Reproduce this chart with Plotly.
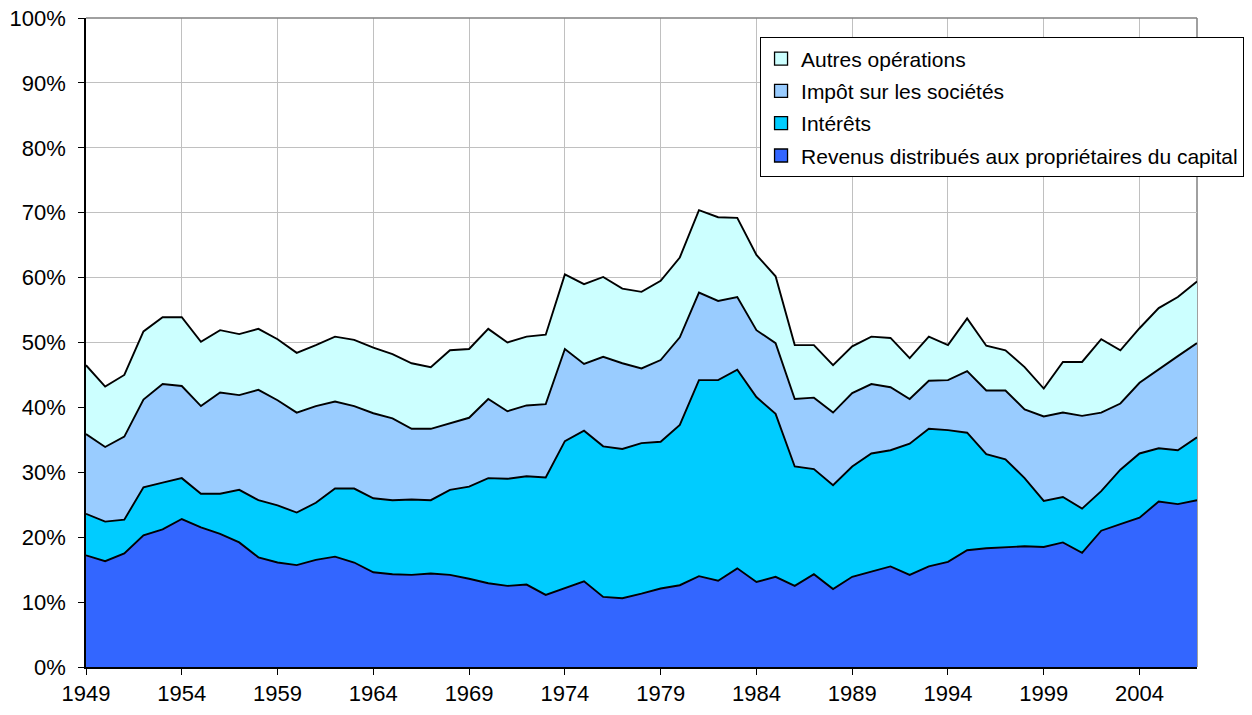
import plotly.graph_objects as go

years = list(range(1949, 2008))

revenus = [17.2, 16.3, 17.5, 20.3, 21.2, 22.8, 21.5, 20.5, 19.2, 16.9,
           16.1, 15.7, 16.5, 17.0, 16.1, 14.6, 14.3, 14.2, 14.4, 14.2,
           13.6, 12.9, 12.5, 12.7, 11.1, 12.1, 13.2, 10.8, 10.6, 11.3,
           12.1, 12.6, 14.0, 13.3, 15.2, 13.1, 13.9, 12.5, 14.3, 12.0,
           13.9, 14.7, 15.5, 14.2, 15.5, 16.2, 18.0, 18.3, 18.5, 18.6,
           18.5, 19.2, 17.6, 21.0, 22.0, 23.0, 25.5, 25.1, 25.7]

interets = [6.4, 6.1, 5.2, 7.4, 7.2, 6.3, 5.2, 6.2, 8.1, 8.8,
            8.8, 8.1, 8.8, 10.5, 11.4, 11.4, 11.4, 11.6, 11.3, 13.1,
            14.2, 16.2, 16.5, 16.7, 18.1, 22.7, 23.2, 23.2, 23.0, 23.2,
            22.6, 24.7, 30.2, 30.9, 30.6, 28.5, 25.1, 18.4, 16.2, 16.0,
            17.0, 18.2, 17.9, 20.2, 21.2, 20.3, 18.1, 14.5, 13.5, 10.5,
            7.1, 7.0, 6.8, 6.1, 8.4, 9.9, 8.2, 8.3, 9.7]

impot = [12.3, 11.5, 12.8, 13.5, 15.2, 14.2, 13.5, 15.6, 14.6, 17.0,
         16.2, 15.4, 14.9, 13.4, 12.7, 13.1, 12.6, 10.9, 11.0, 10.3,
         10.6, 12.2, 10.4, 10.9, 11.3, 14.2, 10.3, 13.8, 13.2, 11.5,
         12.6, 13.5, 13.5, 12.2, 11.2, 10.3, 10.9, 10.4, 11.0, 11.2,
         11.3, 10.7, 9.7, 6.9, 7.4, 7.7, 9.5, 9.8, 10.6, 10.6,
         13.0, 13.0, 14.3, 12.1, 10.2, 10.9, 12.2, 14.5, 14.5]

autres = [10.6, 9.3, 9.5, 10.5, 10.3, 10.6, 9.9, 9.6, 9.4, 9.4,
          9.4, 9.2, 9.4, 10.0, 10.2, 10.1, 9.9, 10.1, 9.5, 11.2,
          10.6, 10.8, 10.6, 10.6, 10.7, 11.5, 12.3, 12.3, 11.5, 11.8,
          12.2, 12.3, 12.7, 12.9, 12.2, 11.6, 10.3, 8.3, 8.1, 7.3,
          7.2, 7.3, 7.6, 6.3, 6.8, 5.4, 8.1, 6.9, 6.2, 6.5,
          4.3, 7.8, 8.3, 11.3, 8.2, 8.4, 9.4, 9.1, 9.5]

series_names = ["Revenus distribués aux propriétaires du capital",
                "Intérêts", "Impôt sur les sociétés", "Autres opérations"]
series_values = [revenus, interets, impot, autres]
series_colors = ["#3366FF", "#00CCFF", "#99CCFF", "#CCFFFF"]

x_ticks = list(range(1949, 2008, 5))
y_ticks = list(range(0, 101, 10))
y_labels = [f"{v}%" for v in y_ticks]

fig = go.Figure()
# stacked areas (bottom to top)
for name, vals, col in zip(series_names, series_values, series_colors):
    fig.add_trace(go.Scatter(
        x=years, y=vals, name=name, mode="lines",
        stackgroup="one", fillcolor=col,
        line=dict(color="black", width=1.9),
        showlegend=False,
        hoverinfo="x+y+name",
    ))

# legend entries with square swatches (top series first)
for i, (name, col) in enumerate(zip(series_names[::-1], series_colors[::-1])):
    fig.add_trace(go.Scatter(
        x=[None], y=[None], name=name, mode="markers",
        marker=dict(symbol="square", size=13, color=col,
                    line=dict(color="black", width=1.3)),
        legendgroup=f"g{i}", showlegend=True, hoverinfo="skip",
    ))

FONT = "Liberation Sans, Arial, sans-serif"
fig.update_layout(
    width=1252, height=715,
    margin=dict(l=86, r=55, t=18, b=48, autoexpand=False),
    paper_bgcolor="white", plot_bgcolor="white",
    font=dict(family=FONT, size=22, color="black"),
    showlegend=True,
    legend=dict(
        x=0.6067, y=0.9700, xanchor="left", yanchor="top",
        traceorder="grouped", tracegroupgap=2,
        bordercolor="black", borderwidth=1, bgcolor="white",
        font=dict(family=FONT, size=21, color="black"),
        itemwidth=30,
    ),
    xaxis=dict(
        range=[1949, 2007], tickmode="array", tickvals=x_ticks,
        ticktext=[str(v) for v in x_ticks],
        showgrid=True, gridcolor="#C0C0C0", gridwidth=1,
        showline=True, linecolor="black", linewidth=1.5,
        ticks="outside", ticklen=6, tickcolor="black",
        tickfont=dict(size=22), zeroline=False,
    ),
    yaxis=dict(
        range=[0, 100], tickmode="array", tickvals=y_ticks, ticktext=y_labels,
        showgrid=True, gridcolor="#C0C0C0", gridwidth=1,
        showline=True, linecolor="black", linewidth=1.5,
        ticks="outside", ticklen=6, tickcolor="black",
        tickfont=dict(size=22), zeroline=False,
        ticklabelstandoff=8,
    ),
    shapes=[
        dict(type="line", xref="paper", yref="paper", x0=0, x1=1, y0=1, y1=1,
             line=dict(color="#808080", width=1.5), layer="above"),
        dict(type="line", xref="paper", yref="paper", x0=1, x1=1, y0=0, y1=1,
             line=dict(color="#808080", width=1.5), layer="below"),
    ],
)

fig.write_html("out.html",
               config={"displayModeBar": False},
               post_script="document.body.style.margin='0';document.body.style.overflow='hidden';")
